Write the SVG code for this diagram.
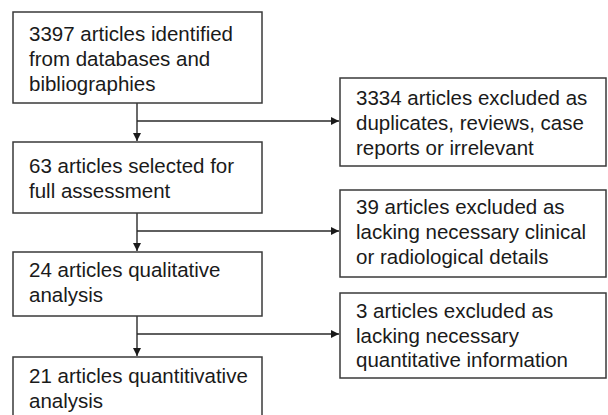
<svg xmlns="http://www.w3.org/2000/svg" width="608" height="415" viewBox="0 0 608 415">
<style>
.box{fill:#fff;stroke:#3a3a3a;stroke-width:1.5}
.t{font-family:"Liberation Sans",Arial,sans-serif;font-size:20.5px;fill:#1a1a1a}
.c{fill:none;stroke:#2a2a2a;stroke-width:1.4}
</style>
<defs>
<marker id="ah" viewBox="0 0 10 10" refX="10" refY="5" markerWidth="8" markerHeight="8" markerUnits="userSpaceOnUse" orient="auto">
<path d="M0,0 L10,5 L0,10 z" fill="#1a1a1a"/>
</marker>
</defs>
<rect width="608" height="415" fill="#fff"/>
<g id="connectors">
<path class="c" d="M137,103 V141" marker-end="url(#ah)"/>
<path class="c" d="M137,121 H339" marker-end="url(#ah)"/>
<path class="c" d="M137,213 V251" marker-end="url(#ah)"/>
<path class="c" d="M137,231 H339" marker-end="url(#ah)"/>
<path class="c" d="M137,316 V356" marker-end="url(#ah)"/>
<path class="c" d="M137,334 H339" marker-end="url(#ah)"/>
</g>
<g id="n1">
<rect class="box" x="13" y="12" width="249" height="91"/>
<text class="t" x="29" y="41">3397 articles identified</text>
<text class="t" x="29" y="66">from databases and</text>
<text class="t" x="29" y="91">bibliographies</text>
</g>
<g id="n2">
<rect class="box" x="13" y="142" width="249" height="71"/>
<text class="t" x="29" y="173">63 articles selected for</text>
<text class="t" x="29" y="198">full assessment</text>
</g>
<g id="n3">
<rect class="box" x="13" y="252" width="249" height="64"/>
<text class="t" x="29" y="277">24 articles qualitative</text>
<text class="t" x="29" y="302">analysis</text>
</g>
<g id="n4">
<rect class="box" x="13" y="357" width="249" height="62"/>
<text class="t" x="29" y="383">21 articles quantitivative</text>
<text class="t" x="29" y="408">analysis</text>
</g>
<g id="e1">
<rect class="box" x="340" y="78" width="266" height="88"/>
<text class="t" x="356" y="105">3334 articles excluded as</text>
<text class="t" x="356" y="130">duplicates, reviews, case</text>
<text class="t" x="356" y="155">reports or irrelevant</text>
</g>
<g id="e2">
<rect class="box" x="340" y="190" width="266" height="87"/>
<text class="t" x="356" y="214">39 articles excluded as</text>
<text class="t" x="356" y="239">lacking necessary clinical</text>
<text class="t" x="356" y="264">or radiological details</text>
</g>
<g id="e3">
<rect class="box" x="340" y="293" width="266" height="85"/>
<text class="t" x="356" y="318">3 articles excluded as</text>
<text class="t" x="356" y="343">lacking necessary</text>
<text class="t" x="356" y="367">quantitative information</text>
</g>
</svg>
